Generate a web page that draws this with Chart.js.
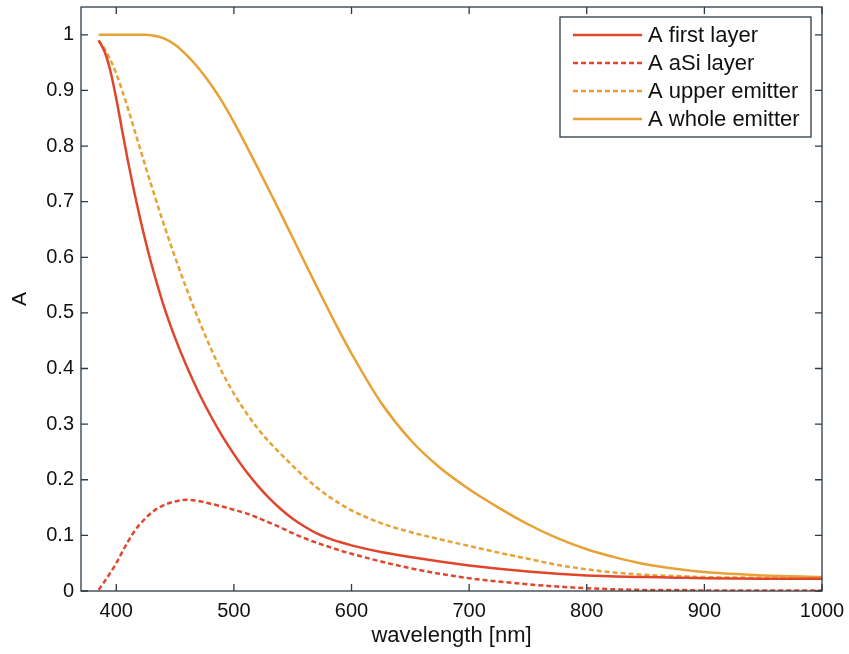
<!DOCTYPE html>
<html>
<head>
<meta charset="utf-8">
<script src="https://cdn.jsdelivr.net/npm/chart.js@4.4.1/dist/chart.umd.min.js"></script>
<style>
  html, body { margin: 0; padding: 0; background: #fff; }
  #wrap { width: 849px; height: 654px; position: relative; }
</style>
</head>
<body>
<div id="wrap"><canvas id="grafico"></canvas></div>
<script>
// comprimentos de onda (nm) e absorção
const wl = [385, 390, 395, 400, 405, 410, 415, 420, 425, 430,
    440, 450, 460, 470, 480, 490, 500, 510, 520, 530, 540, 550, 560, 570, 580, 590, 600,
    625, 650, 675, 700, 725, 750, 775, 800, 825, 850, 875, 900, 950, 1000];

const aFirstLayer = [0.99, 0.97, 0.935, 0.885, 0.828, 0.772, 0.72, 0.672, 0.628, 0.587,
    0.515, 0.455, 0.403, 0.357, 0.316, 0.279, 0.246, 0.216, 0.19, 0.167, 0.147, 0.13, 0.116, 0.104, 0.095, 0.088, 0.082,
    0.07, 0.061, 0.053, 0.046, 0.04, 0.035, 0.031, 0.028, 0.026, 0.025, 0.024, 0.023, 0.022, 0.022];
const aSiLayer = [0.002, 0.017, 0.033, 0.05, 0.07, 0.089, 0.106, 0.12, 0.131, 0.141,
    0.154, 0.161, 0.164, 0.162, 0.157, 0.152, 0.146, 0.14, 0.132, 0.123, 0.114, 0.104, 0.095, 0.087, 0.08, 0.073, 0.067,
    0.053, 0.041, 0.031, 0.023, 0.017, 0.012, 0.008, 0.005, 0.003, 0.002, 0.002, 0.001, 0.001, 0.001];
const aUpperEmitter = [0.99, 0.975, 0.955, 0.93, 0.9, 0.867, 0.832, 0.797, 0.762, 0.728,
    0.662, 0.6, 0.542, 0.488, 0.438, 0.393, 0.355, 0.322, 0.293, 0.268, 0.246, 0.225, 0.205, 0.187, 0.171, 0.157, 0.145,
    0.122, 0.106, 0.093, 0.081, 0.069, 0.058, 0.047, 0.039, 0.033, 0.029, 0.027, 0.025, 0.024, 0.024];
const aWholeEmitter = [1, 1, 1, 1, 1, 1, 1, 1, 1, 0.999,
    0.994, 0.982, 0.963, 0.94, 0.912, 0.88, 0.843, 0.803, 0.762, 0.72, 0.678, 0.635, 0.592, 0.549, 0.507, 0.466, 0.427,
    0.339, 0.272, 0.222, 0.183, 0.15, 0.12, 0.095, 0.075, 0.06, 0.048, 0.04, 0.034, 0.028, 0.025];

const xTicks = [400, 500, 600, 700, 800, 900, 1000];
const yTicks = [0, 0.1, 0.2, 0.3, 0.4, 0.5, 0.6, 0.7, 0.8, 0.9, 1];

const VERMELHO = '#e0462c';
const LARANJA = '#e7a134';
const MOLDURA = '#2c3a44';
const FONTE = 'Liberation Sans, Arial, sans-serif';

function pontos(valores) {
    return wl.map((x, i) => ({ x, y: valores[i] }));
}

function serie(label, valores, cor, tracejado) {
    return {
        label,
        data: pontos(valores),
        borderColor: cor,
        backgroundColor: cor,
        borderWidth: 2.5,
        borderDash: tracejado ? [5, 3] : [],
        pointRadius: 0,
        cubicInterpolationMode: 'monotone',
        fill: false
    };
}

// moldura com ticks para dentro (estilo MATLAB)
const molduraPlugin = {
    id: 'moldura',
    afterDatasetsDraw(chart) {
        const { ctx, chartArea: a, scales } = chart;
        const tl = 7;
        ctx.save();
        ctx.strokeStyle = MOLDURA;
        ctx.lineWidth = 1.3;
        ctx.strokeRect(a.left, a.top, a.right - a.left, a.bottom - a.top);
        ctx.beginPath();
        xTicks.forEach(v => {
            const px = scales.x.getPixelForValue(v);
            ctx.moveTo(px, a.bottom); ctx.lineTo(px, a.bottom - tl);
            ctx.moveTo(px, a.top); ctx.lineTo(px, a.top + tl);
        });
        yTicks.forEach(v => {
            const py = scales.y.getPixelForValue(v);
            ctx.moveTo(a.left, py); ctx.lineTo(a.left + tl, py);
            ctx.moveTo(a.right, py); ctx.lineTo(a.right - tl, py);
        });
        ctx.stroke();
        ctx.restore();
    }
};

// legenda dentro do gráfico, canto superior direito
const legendaPlugin = {
    id: 'legendaInterna',
    afterDraw(chart) {
        const { ctx } = chart;
        const caixa = { x: 560, y: 17, w: 251, h: 120 };
        ctx.save();
        ctx.fillStyle = '#fff';
        ctx.fillRect(caixa.x, caixa.y, caixa.w, caixa.h);
        ctx.strokeStyle = MOLDURA;
        ctx.lineWidth = 1.3;
        ctx.strokeRect(caixa.x, caixa.y, caixa.w, caixa.h);
        ctx.font = '22px ' + FONTE;
        ctx.textBaseline = 'middle';
        chart.data.datasets.forEach((ds, i) => {
            const y = 35 + i * 28;
            ctx.beginPath();
            ctx.strokeStyle = ds.borderColor;
            ctx.lineWidth = 2.5;
            ctx.setLineDash(ds.borderDash);
            ctx.moveTo(573, y);
            ctx.lineTo(642, y);
            ctx.stroke();
            ctx.setLineDash([]);
            ctx.fillStyle = '#111';
            ctx.fillText(ds.label, 648, y + 1);
        });
        ctx.restore();
    }
};

new Chart(document.getElementById('grafico').getContext('2d'), {
    type: 'line',
    data: {
        datasets: [
            serie('A first layer', aFirstLayer, VERMELHO, false),
            serie('A aSi layer', aSiLayer, VERMELHO, true),
            serie('A upper emitter', aUpperEmitter, LARANJA, true),
            serie('A whole emitter', aWholeEmitter, LARANJA, false)
        ]
    },
    options: {
        responsive: true,
        maintainAspectRatio: false,
        animation: false,
        layout: { padding: { top: 7, right: 27, left: 0, bottom: 0 } },
        plugins: {
            legend: { display: false },
            tooltip: { enabled: false }
        },
        scales: {
            x: {
                type: 'linear',
                min: 370,
                max: 1000,
                grid: { display: false, drawTicks: false },
                border: { display: false },
                afterBuildTicks(s) { s.ticks = xTicks.map(v => ({ value: v })); },
                afterFit(s) {
                    s.height = 63;
                    s.paddingLeft = 0;
                    s.paddingRight = 0;
                },
                ticks: {
                    color: '#111',
                    padding: 8,
                    maxRotation: 0,
                    font: { family: FONTE, size: 20 },
                    callback: v => String(v)
                },
                title: {
                    display: true,
                    text: 'wavelength [nm]',
                    color: '#111',
                    padding: { top: 0, bottom: 5 },
                    font: { family: FONTE, size: 22 }
                }
            },
            y: {
                type: 'linear',
                min: 0,
                max: 1.05,
                grid: { display: false, drawTicks: false },
                border: { display: false },
                afterBuildTicks(s) { s.ticks = yTicks.map(v => ({ value: v })); },
                afterFit(s) {
                    s.width = 81;
                    s.paddingTop = 0;
                    s.paddingBottom = 0;
                },
                ticks: {
                    color: '#111',
                    padding: 7,
                    font: { family: FONTE, size: 20 },
                    callback: v => String(Math.round(v * 10) / 10)
                },
                title: {
                    display: true,
                    text: 'A',
                    color: '#111',
                    padding: { top: 8, bottom: 0 },
                    font: { family: FONTE, size: 21 }
                }
            }
        }
    },
    plugins: [molduraPlugin, legendaPlugin]
});
</script>
</body>
</html>
